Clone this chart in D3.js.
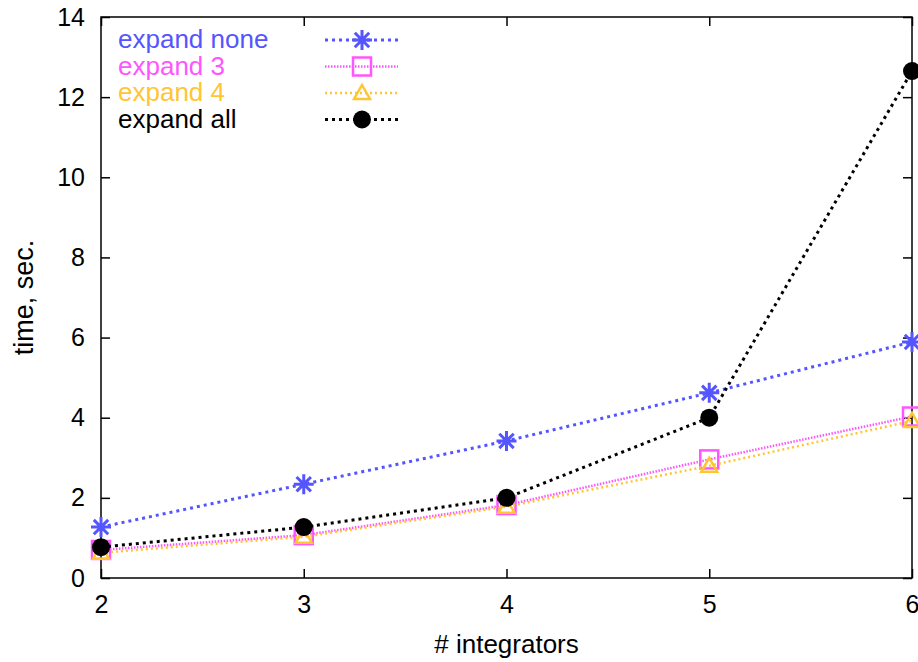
<!DOCTYPE html>
<html>
<head>
<meta charset="utf-8">
<script src="https://cdn.jsdelivr.net/npm/d3@7"></script>
<style>
  body { margin: 0; background: #fff; }
  svg { display: block; font-family: "Liberation Sans", Arial, sans-serif; }
  .tick text { font-size: 25px; fill: #000; font-family: "Liberation Sans", Arial, sans-serif; }
</style>
</head>
<body>
<div id="chart"></div>
<script>
// data
var integrators = [2, 3, 4, 5, 6];
var expandNone = [1.27, 2.34, 3.42, 4.62, 5.89];
var expand3 = [0.70, 1.07, 1.82, 2.96, 4.03];
var expand4 = [0.63, 1.03, 1.78, 2.80, 3.92];
var expandAll = [0.77, 1.27, 2.00, 4.00, 12.65];
var yTicks = [0, 2, 4, 6, 8, 10, 12, 14];

var series = [
  {name: "expand none", values: expandNone, color: "#5555ff", dash: "3,4", width: 3, marker: "star"},
  {name: "expand 3", values: expand3, color: "#ff55ff", dash: "1.5,1.5", width: 2.5, marker: "square"},
  {name: "expand 4", values: expand4, color: "#ffc533", dash: "2,3", width: 2.5, marker: "triangle"},
  {name: "expand all", values: expandAll, color: "#000000", dash: "3,4", width: 3, marker: "circle"}
];

var W = 918, H = 662;
var margin = {top: 17, right: 6, bottom: 84, left: 101};

var svg = d3.select("#chart").append("svg")
    .attr("width", W)
    .attr("height", H);

var x = d3.scaleLinear().domain([2, 6]).range([margin.left, W - margin.right]);
var y = d3.scaleLinear().domain([0, 14]).range([H - margin.bottom, margin.top]);

// mirrored inward ticks like gnuplot
var tickLen = 9;
svg.append("g")
    .attr("transform", "translate(" + margin.left + ",0)")
    .call(d3.axisLeft(y).tickValues(yTicks).tickSize(-tickLen).tickPadding(16))
    .call(function(g) { g.select(".domain").remove(); });
svg.append("g")
    .attr("transform", "translate(" + (W - margin.right) + ",0)")
    .call(d3.axisRight(y).tickValues(yTicks).tickSize(-tickLen).tickFormat(""))
    .call(function(g) { g.select(".domain").remove(); });
svg.append("g")
    .attr("transform", "translate(0," + (H - margin.bottom) + ")")
    .call(d3.axisBottom(x).tickValues(integrators).tickSize(-tickLen).tickFormat(d3.format("d")).tickPadding(17))
    .call(function(g) { g.select(".domain").remove(); });
svg.append("g")
    .attr("transform", "translate(0," + margin.top + ")")
    .call(d3.axisTop(x).tickValues(integrators).tickSize(-tickLen).tickFormat(""))
    .call(function(g) { g.select(".domain").remove(); });

svg.selectAll(".tick line").attr("stroke", "#000").attr("stroke-width", 1.5);

svg.append("rect")
    .attr("x", margin.left)
    .attr("y", margin.top)
    .attr("width", W - margin.right - margin.left)
    .attr("height", H - margin.bottom - margin.top)
    .attr("fill", "none")
    .attr("stroke", "#000")
    .attr("stroke-width", 1.5);

svg.append("text")
    .attr("transform", "translate(33," + (y(7)) + ") rotate(-90)")
    .attr("text-anchor", "middle")
    .style("font-size", "27px")
    .text("time, sec.");

svg.append("text")
    .attr("x", (margin.left + W - margin.right) / 2)
    .attr("y", 653)
    .attr("text-anchor", "middle")
    .style("font-size", "26px")
    .text("# integrators");

function drawMarker(g, type, color) {
  if (type === "star") {
    var r = 10;
    g.append("path")
      .attr("d", "M" + (-r) + ",0H" + r + "M0," + (-r) + "V" + r +
                 "M" + (-r * 0.72) + "," + (-r * 0.72) + "L" + (r * 0.72) + "," + (r * 0.72) +
                 "M" + (-r * 0.72) + "," + (r * 0.72) + "L" + (r * 0.72) + "," + (-r * 0.72))
      .attr("stroke", color).attr("stroke-width", 3).attr("fill", "none");
  } else if (type === "square") {
    g.append("rect").attr("x", -9).attr("y", -9).attr("width", 18).attr("height", 18)
      .attr("fill", "none").attr("stroke", color).attr("stroke-width", 2.5);
  } else if (type === "triangle") {
    g.append("path").attr("d", "M0,-8L8,6H-8Z")
      .attr("fill", "none").attr("stroke", color).attr("stroke-width", 2.5);
  } else {
    g.append("circle").attr("r", 9).attr("fill", color);
  }
}

var line = d3.line()
    .x(function(d, i) { return x(integrators[i]); })
    .y(function(d) { return y(d); });

series.forEach(function(s) {
  svg.append("path")
    .datum(s.values)
    .attr("d", line)
    .attr("fill", "none")
    .attr("stroke", s.color)
    .attr("stroke-width", s.width)
    .attr("stroke-dasharray", s.dash);

  svg.selectAll(null)
    .data(s.values)
    .enter().append("g")
      .attr("transform", function(d, i) { return "translate(" + x(integrators[i]) + "," + y(d) + ")"; })
      .each(function() { drawMarker(d3.select(this), s.marker, s.color); });
});

// legend
var legend = svg.selectAll(".legend")
    .data(series)
    .enter().append("g")
      .attr("class", "legend")
      .attr("transform", function(d, i) { return "translate(0," + (40 + i * 26.5) + ")"; });

legend.append("text")
    .attr("x", 118)
    .attr("y", 8)
    .style("font-size", "26px")
    .attr("fill", function(d) { return d.color; })
    .text(function(d) { return d.name; });

legend.append("line")
    .attr("x1", 325).attr("x2", 398)
    .attr("y1", 0).attr("y2", 0)
    .attr("stroke", function(d) { return d.color; })
    .attr("stroke-width", function(d) { return d.width; })
    .attr("stroke-dasharray", function(d) { return d.dash; });

legend.append("g")
    .attr("transform", "translate(362,0)")
    .each(function(d) { drawMarker(d3.select(this), d.marker, d.color); });
</script>
</body>
</html>
